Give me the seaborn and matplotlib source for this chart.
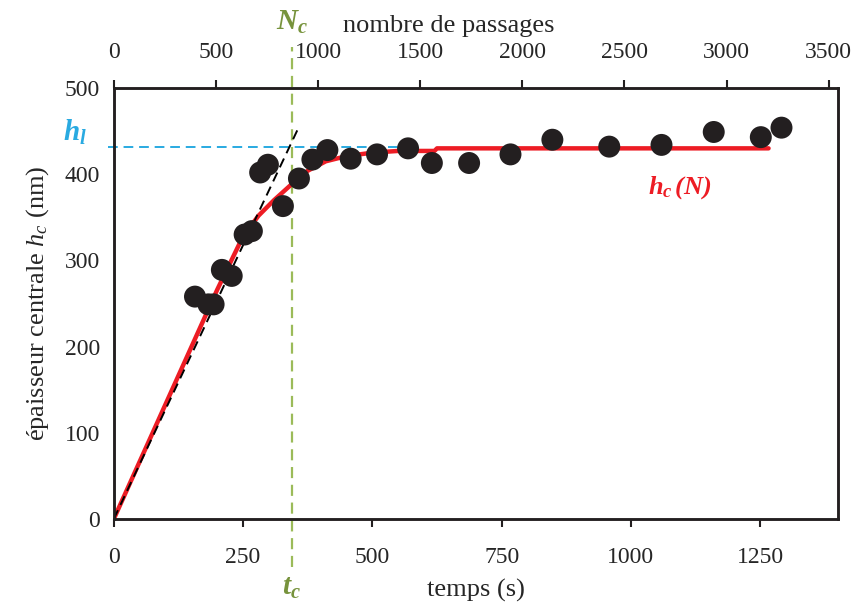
import matplotlib
matplotlib.use("Agg")
import matplotlib.pyplot as plt
import seaborn as sns
import pandas as pd

sns.set_style("white")
plt.rcParams['font.family'] = ['Liberation Serif', 'DejaVu Serif']
plt.rcParams['mathtext.fontset'] = 'custom'
plt.rcParams['mathtext.it'] = 'Liberation Serif:italic'
plt.rcParams['mathtext.bf'] = 'Liberation Serif:bold:italic'
plt.rcParams['mathtext.rm'] = 'Liberation Serif'

# measured points
temps = [157, 183, 193, 209, 228, 253, 267, 283, 298, 327, 358, 384, 413,
         458, 509, 569, 615, 687, 767, 848, 958, 1059, 1160, 1251, 1291]
epaisseur = [258, 249, 249, 289, 282, 330, 334, 402, 411, 363, 395, 417, 428,
             418, 423, 430, 413, 413, 423, 440, 432, 434, 449, 443, 454]

# model curve h_c(N)
t_model = [0, 100, 200, 250, 280, 310, 345, 375, 410, 450, 500, 550, 620, 625, 1266]
h_model = [0, 133, 266, 328, 352, 370, 389, 404, 415, 421, 425, 427, 427, 430, 430]

# tangent at origin
t_tangent = [0, 358]
h_tangent = [0, 455]

t_c = 344
h_l = 432

RED = '#ed1c24'
GREEN = '#77933c'
GREEN_LINE = '#9bbb59'
BLUE = '#29aae1'
DOT = '#231f20'

points = pd.DataFrame({'t': temps, 'h': epaisseur})
model = pd.DataFrame({'t': t_model, 'h': h_model})
tangent = pd.DataFrame({'t': t_tangent, 'h': h_tangent})

fig = plt.figure(figsize=(8.62, 6.07), dpi=100)
ax = fig.add_axes([0.132, 0.145, 0.84, 0.71])

sns.lineplot(data=model, x='t', y='h', color=RED, linewidth=3.2, ax=ax, sort=False, zorder=2)
sns.lineplot(data=tangent, x='t', y='h', color='black', linewidth=1.4,
             linestyle=(0, (5, 3)), ax=ax, zorder=3)
sns.scatterplot(data=points, x='t', y='h', color=DOT, s=250, edgecolor='none', ax=ax, zorder=4)

# h_l and t_c guides
ax.plot([-12, 560], [h_l, h_l], color=BLUE, linewidth=1.4, linestyle=(0, (5, 3)),
        clip_on=False, zorder=1)
ax.plot([t_c, t_c], [-56, 548], color=GREEN_LINE, linewidth=1.6, linestyle=(0, (5, 3)),
        clip_on=False, zorder=1)

ax.set_xlim(0, 1400)
ax.set_ylim(0, 500)
ax.set_xticks([0, 250, 500, 750, 1000, 1250])
ax.set_yticks([0, 100, 200, 300, 400, 500])
ax.set_xlabel("temps (s)", fontsize=19, labelpad=8)
ax.set_ylabel(r"épaisseur centrale $h_c$ (nm)", fontsize=19, labelpad=10)
ax.tick_params(axis='both', labelsize=17, direction='out', length=6, width=1.5,
               color='#231f20', pad=4)
ax.tick_params(axis='x', pad=14)
for s in ax.spines.values():
    s.set_linewidth(1.8)
    s.set_color('#231f20')

ax2 = ax.twiny()
ax2.set_xlim(0, 3545)
ax2.set_xticks([0, 500, 1000, 1500, 2000, 2500, 3000, 3500])
ax2.tick_params(axis='x', labelsize=17, direction='out', length=6, width=1.5,
                color='#231f20', pad=12)
ax2.set_xlabel("nombre de passages", fontsize=19)
ax2.xaxis.set_label_coords(0.463, 1.13)
for s in ax2.spines.values():
    s.set_linewidth(1.8)
    s.set_color('#231f20')

# annotations
ax.text(t_c, -80, r"$\mathbf{t_c}$", color=GREEN, fontsize=21, ha='center', va='center',
        clip_on=False)
fig.text(292 / 862, 1 - 22 / 607, r"$\mathbf{N_c}$", color=GREEN, fontsize=21,
         ha='center', va='center')
fig.text(75 / 862, 1 - 132 / 607, r"$\mathbf{h_l}$", color=BLUE, fontsize=21,
         ha='center', va='center')
ax.text(1095, 384, r"$\mathbf{h_c\,(N)}$", color=RED, fontsize=19, ha='center', va='center')

plt.savefig("out.png", dpi=100)
